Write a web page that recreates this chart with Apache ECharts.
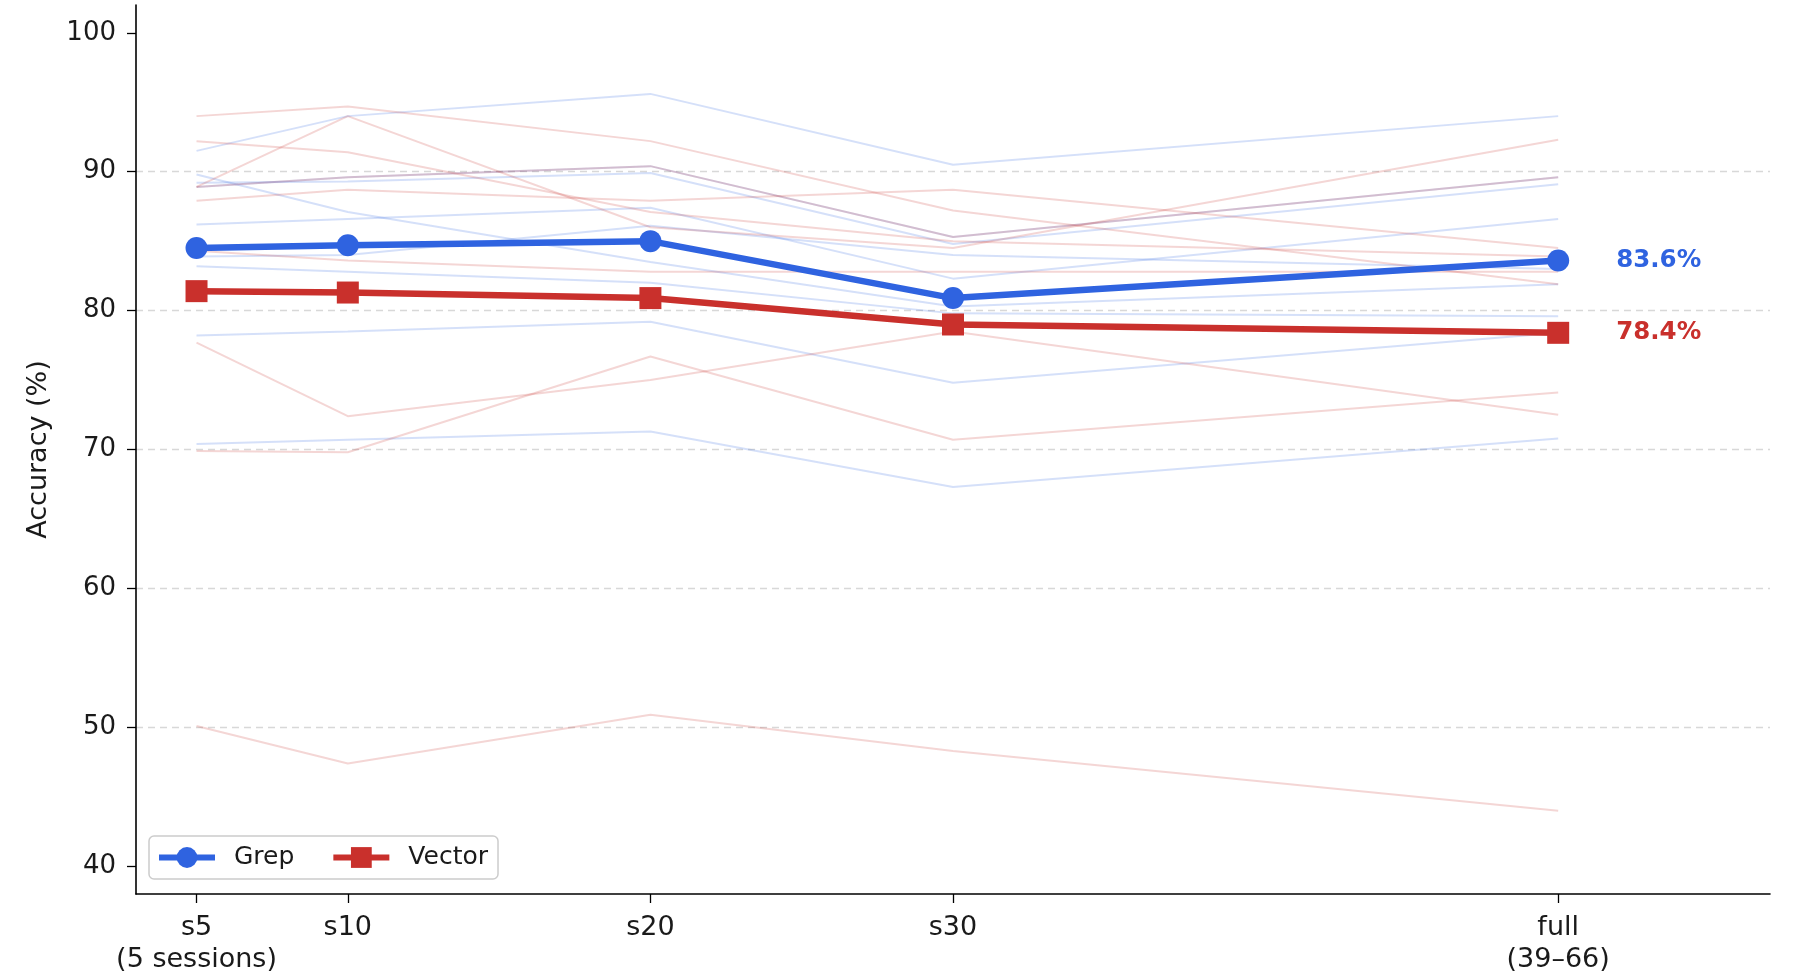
<!DOCTYPE html>
<html>
<head>
<meta charset="utf-8">
<script src="https://cdn.jsdelivr.net/npm/echarts@6/dist/echarts.min.js"></script>
<style>
  html, body { margin: 0; padding: 0; background: #fff; }
  #chart { width: 1800px; height: 979px; }
</style>
</head>
<body>
<div id="chart"></div>
<script>
// x positions (number of sessions) and their tick labels
var xValues = [5, 10, 20, 30, 50];
var xTickLabels = ['s5\n(5 sessions)', 's10', 's20', 's30', 'full\n(39–66)'];
var yTicks = [40, 50, 60, 70, 80, 90, 100];

// mean accuracy
var grepMean = [84.5, 84.7, 85.0, 80.9, 83.6];
var vectorMean = [81.4, 81.3, 80.9, 79.0, 78.4];

// individual runs (faint lines)
var grepRuns = [
    [91.5, 94.0, 95.6, 90.5, 94.0],
    [89.8, 87.1, 83.5, 80.3, 81.9],
    [89.2, 89.3, 89.9, 84.8, 89.1],
    [88.9, 89.6, 90.4, 85.3, 89.6],
    [86.2, 86.6, 87.4, 82.3, 86.6],
    [83.9, 84.0, 86.1, 84.0, 83.0],
    [83.2, 82.8, 82.0, 79.8, 79.6],
    [78.2, 78.5, 79.2, 74.8, 78.4],
    [70.4, 70.7, 71.3, 67.3, 70.8]
];
var vectorRuns = [
    [94.0, 94.7, 92.2, 87.2, 81.9],
    [92.2, 91.4, 87.1, 85.0, 83.9],
    [88.9, 94.0, 86.0, 84.5, 92.3],
    [88.9, 89.6, 90.4, 85.3, 89.6],
    [87.9, 88.7, 87.9, 88.7, 84.5],
    [84.3, 83.6, 82.8, 82.8, 82.8],
    [77.7, 72.4, 75.0, 78.5, 72.5],
    [69.9, 69.8, 76.7, 70.7, 74.1],
    [50.1, 47.4, 50.9, 48.3, 44.0]
];

var BLUE = '#2f63e0';
var RED = '#c9302c';
var FONT = 'DejaVu Sans';
var INK = '#1a1a1a';

function pairs(vals) {
    return vals.map(function (v, i) { return [xValues[i], v]; });
}

var chart = echarts.init(document.getElementById('chart'));

var series = [];
grepRuns.forEach(function (run) {
    series.push({
        type: 'line', data: pairs(run), symbol: 'none', silent: true, z: 1,
        lineStyle: { color: BLUE, width: 2, opacity: 0.2 }
    });
});
vectorRuns.forEach(function (run) {
    series.push({
        type: 'line', data: pairs(run), symbol: 'none', silent: true, z: 1,
        lineStyle: { color: RED, width: 2, opacity: 0.2 }
    });
});

series.push({
    name: 'Grep', type: 'line', data: pairs(grepMean), z: 5,
    symbol: 'circle', symbolSize: 22,
    itemStyle: { color: BLUE },
    lineStyle: { color: BLUE, width: 6.5 },
    endLabel: {
        show: true, distance: 58, color: BLUE, fontFamily: FONT,
        fontWeight: 'bold', fontSize: 24.5,
        formatter: function (p) { return p.value[1].toFixed(1) + '%'; }
    }
});
series.push({
    name: 'Vector', type: 'line', data: pairs(vectorMean), z: 4,
    symbol: 'rect', symbolSize: 22,
    itemStyle: { color: RED },
    lineStyle: { color: RED, width: 6.5 },
    endLabel: {
        show: true, distance: 58, color: RED, fontFamily: FONT,
        fontWeight: 'bold', fontSize: 24.5,
        formatter: function (p) { return p.value[1].toFixed(1) + '%'; }
    }
});

chart.setOption({
    backgroundColor: '#fff',
    animation: false,
    textStyle: { fontFamily: FONT },
    grid: { left: 136, right: 30, top: 5, bottom: 85, outerBoundsMode: 'none' },
    legend: {
        data: ['Grep', 'Vector'],
        left: 149, top: 836,
        orient: 'horizontal',
        padding: [9, 10, 9, 7],
        itemGap: 36,
        itemWidth: 56, itemHeight: 26,
        lineStyle: { width: 6 },
        borderColor: '#cccccc', borderWidth: 1.5, borderRadius: 5,
        backgroundColor: '#fff',
        textStyle: { fontSize: 25, color: INK, fontFamily: FONT, padding: [0, 0, 0, 14] }
    },
    xAxis: {
        type: 'value', min: 3, max: 57,
        axisLine: { show: true, lineStyle: { color: '#000', width: 1.6 } },
        axisTick: { show: true, length: 9, customValues: xValues, lineStyle: { color: '#000', width: 1.3 } },
        axisLabel: {
            customValues: xValues, margin: 18, fontSize: 27, color: INK, lineHeight: 32,
            fontFamily: FONT,
            formatter: function (v) {
                var i = xValues.indexOf(v);
                return i >= 0 ? xTickLabels[i] : '';
            }
        },
        splitLine: { show: false }
    },
    yAxis: {
        type: 'value', min: 38, max: 102,
        name: 'Accuracy (%)', nameLocation: 'middle', nameGap: 84, nameRotate: 90,
        nameTextStyle: { fontSize: 27, color: INK, fontFamily: FONT },
        axisLine: { show: true, lineStyle: { color: '#000', width: 1.6 } },
        axisTick: { show: true, length: 9, customValues: yTicks, lineStyle: { color: '#000', width: 1.3 } },
        axisLabel: { customValues: yTicks, margin: 20, fontSize: 26, color: INK, fontFamily: FONT },
        splitLine: {
            show: true, showMinLine: false, showMaxLine: false,
            lineStyle: { color: '#d8d8d8', type: [7, 5], width: 1.3 }
        }
    },
    series: series
});
</script>
</body>
</html>
